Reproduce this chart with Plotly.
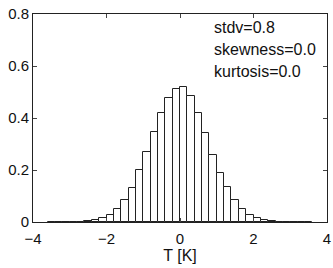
import plotly.graph_objects as go

bin_centers = [-3.5, -3.3, -3.1, -2.9, -2.7, -2.5, -2.3, -2.1, -1.9, -1.7, -1.5, -1.3,
               -1.1, -0.9, -0.7, -0.5, -0.3, -0.1, 0.1, 0.3, 0.5, 0.7, 0.9, 1.1,
               1.3, 1.5, 1.7, 1.9, 2.1, 2.3, 2.5, 2.7, 2.9, 3.1, 3.3, 3.5]
frequency = [0.0005, 0.0005, 0.0008, 0.001, 0.0015, 0.003, 0.0065, 0.014, 0.028, 0.051, 0.085, 0.131,
             0.200, 0.270, 0.345, 0.420, 0.476, 0.510, 0.520, 0.486, 0.418, 0.343, 0.258, 0.190,
             0.133, 0.086, 0.049, 0.028, 0.015, 0.007, 0.003, 0.0015, 0.001, 0.0008, 0.0005, 0.0005]
stats_text = ["stdv=0.8", "skewness=0.0", "kurtosis=0.0"]
stats_y = [0.75, 0.665, 0.578]
x_ticks = [-4, -2, 0, 2, 4]
y_ticks = [0, 0.2, 0.4, 0.6, 0.8]
y_tick_labels = ["0", "0.2", "0.4", "0.6", "0.8"]

font = "Liberation Sans, Arial, Helvetica, sans-serif"

fig = go.Figure()
fig.add_trace(go.Bar(
    x=bin_centers, y=frequency, width=0.2,
    marker=dict(color="white", line=dict(color="#222222", width=1)),
    showlegend=False, hoverinfo="skip",
))

for txt, yy in zip(stats_text, stats_y):
    fig.add_annotation(x=0.88, y=yy, xref="x", yref="y", text=txt, showarrow=False,
                       xanchor="left", yanchor="middle",
                       font=dict(family=font, size=16, color="#111111"))

fig.update_layout(
    width=333, height=268,
    margin=dict(l=33, r=6, t=14, b=46, autoexpand=False),
    plot_bgcolor="white", paper_bgcolor="white",
    bargap=0,
    font=dict(family=font, size=15, color="#111111"),
)
fig.update_xaxes(range=[-4, 4], tickvals=x_ticks, ticks="inside", ticklen=4,
                 showline=True, linecolor="#222222", linewidth=1, mirror="ticks",
                 showgrid=False, zeroline=False, tickfont=dict(size=15),
                 automargin=False, ticklabelstandoff=3,
                 title=dict(text="T [K]", font=dict(size=16), standoff=0))
fig.update_yaxes(range=[0, 0.8], tickvals=y_ticks, ticktext=y_tick_labels,
                 ticks="inside", ticklen=4, automargin=False,
                 showline=True, linecolor="#222222", linewidth=1, mirror="ticks",
                 showgrid=False, zeroline=False, tickfont=dict(size=15))

fig.write_html("out.html", config={"displayModeBar": False},
               post_script="document.body.style.margin='0';")
